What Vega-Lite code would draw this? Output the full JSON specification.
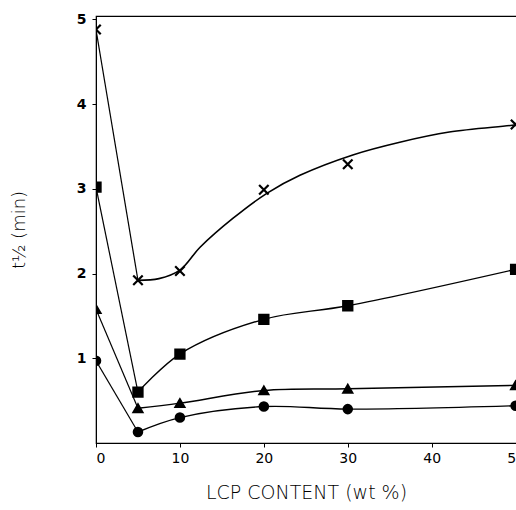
{
  "$schema": "https://vega.github.io/schema/vega-lite/v6.json",
  "width": 428,
  "height": 427,
  "autosize": {"type": "none"},
  "padding": {"left": 96, "top": 16, "right": 0, "bottom": 67},
  "background": "white",
  "config": {
    "view": {"stroke": "black", "strokeWidth": 1.2},
    "axis": {"domainColor": "black", "tickColor": "black", "labelColor": "black", "titleColor": "black", "labelFont": "DejaVu Sans", "titleFont": "DejaVu Sans", "grid": false}
  },
  "datasets": {
    "pts": [
      {"series": "A", "x": 0, "y": 4.88},
      {"series": "A", "x": 5, "y": 1.92},
      {"series": "A", "x": 10, "y": 2.03},
      {"series": "A", "x": 20, "y": 2.99},
      {"series": "A", "x": 30, "y": 3.29},
      {"series": "A", "x": 50, "y": 3.76},
      {"series": "B", "x": 0, "y": 3.02},
      {"series": "B", "x": 5, "y": 0.6},
      {"series": "B", "x": 10, "y": 1.05},
      {"series": "B", "x": 20, "y": 1.46},
      {"series": "B", "x": 30, "y": 1.62},
      {"series": "B", "x": 50, "y": 2.05},
      {"series": "C", "x": 0, "y": 1.58},
      {"series": "C", "x": 5, "y": 0.41},
      {"series": "C", "x": 10, "y": 0.47},
      {"series": "C", "x": 20, "y": 0.62},
      {"series": "C", "x": 30, "y": 0.64},
      {"series": "C", "x": 50, "y": 0.68},
      {"series": "D", "x": 0, "y": 0.97},
      {"series": "D", "x": 5, "y": 0.13},
      {"series": "D", "x": 10, "y": 0.3},
      {"series": "D", "x": 20, "y": 0.43},
      {"series": "D", "x": 30, "y": 0.4},
      {"series": "D", "x": 50, "y": 0.44}
    ],
    "curveA": [
      {"x": 5, "y": 1.92},
      {"x": 7.5, "y": 1.94},
      {"x": 10, "y": 2.04},
      {"x": 12.4, "y": 2.31},
      {"x": 16.3, "y": 2.65},
      {"x": 20.4, "y": 2.95},
      {"x": 24.3, "y": 3.16},
      {"x": 30.6, "y": 3.4},
      {"x": 36.2, "y": 3.55},
      {"x": 42.1, "y": 3.67},
      {"x": 49.6, "y": 3.75},
      {"x": 51, "y": 3.77}
    ]
  },
  "encoding": {
    "x": {
      "field": "x", "type": "quantitative",
      "scale": {"domain": [0, 51], "nice": false},
      "axis": {"values": [0, 10, 20, 30, 40, 50], "title": "LCP CONTENT (wt %)", "titleFontSize": 19, "titleFontWeight": 300, "titlePadding": 18, "titleX": 210, "labelFontSize": 14, "tickSize": 4, "labelPadding": 4}
    },
    "y": {
      "field": "y", "type": "quantitative",
      "scale": {"domain": [0, 5.04], "nice": false},
      "axis": {"values": [1, 2, 3, 4, 5], "title": "t½ (min)", "titleFontSize": 18, "titleFontWeight": 300, "titlePadding": 48, "labelFontSize": 14, "labelFontWeight": "bold", "tickSize": 4, "labelPadding": 6}
    }
  },
  "layer": [
    {
      "data": {"name": "pts"},
      "transform": [{"filter": "datum.x <= 5"}],
      "mark": {"type": "line", "color": "black", "strokeWidth": 1.2, "clip": true},
      "encoding": {"detail": {"field": "series"}}
    },
    {
      "data": {"name": "pts"},
      "transform": [{"filter": "datum.x >= 5 && datum.series != 'A'"}],
      "mark": {"type": "line", "color": "black", "strokeWidth": 1.4, "interpolate": "catmull-rom", "clip": true},
      "encoding": {"detail": {"field": "series"}}
    },
    {
      "data": {"name": "curveA"},
      "mark": {"type": "line", "color": "black", "strokeWidth": 1.6, "interpolate": "catmull-rom", "clip": true},
      "encoding": {}
    },
    {
      "data": {"name": "pts"},
      "mark": {"type": "point", "filled": true, "color": "black", "opacity": 1, "clip": true},
      "encoding": {
        "shape": {"field": "series", "type": "nominal", "legend": null,
          "scale": {"domain": ["A", "B", "C", "D"], "range": ["M-1,-1L1,1M-1,1L1,-1", "square", "triangle-up", "circle"]}},
        "size": {"field": "series", "type": "nominal", "legend": null,
          "scale": {"domain": ["A", "B", "C", "D"], "range": [90, 70, 70, 45]}},
        "strokeWidth": {"value": 2.2},
        "stroke": {"value": "black"}
      }
    }
  ]
}
